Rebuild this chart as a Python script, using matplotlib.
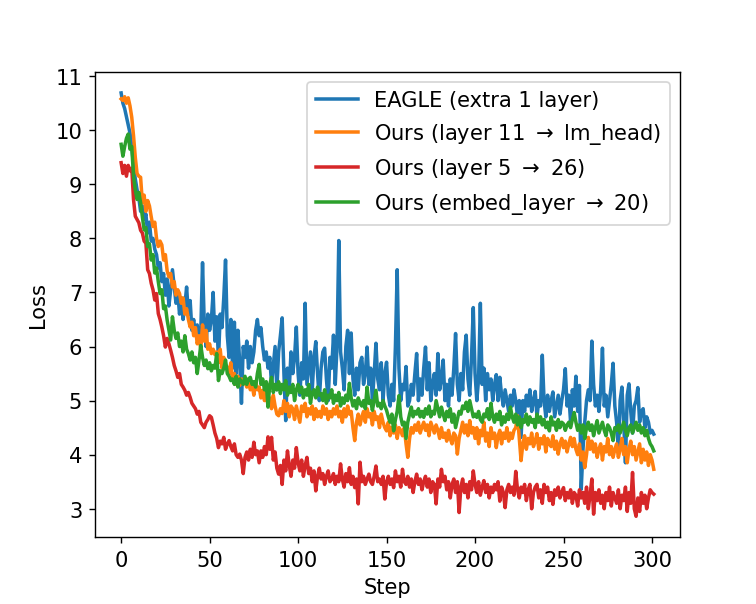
import numpy as np
import matplotlib
matplotlib.use('Agg')
import matplotlib.pyplot as plt

# loss curves, one value per training step
eagle = [
    10.69, 10.5, 10.4, 10.25, 10.1, 9.95, 9.7, 9.35, 9.1, 8.9,
    8.75, 8.5, 8.6, 8.35, 8.45, 8.1, 8.3, 7.95, 8.0, 7.8,
    7.7, 7.45, 7.55, 7.2, 7.35, 6.95, 7.25, 6.75, 7.05, 7.42,
    7.1, 6.8, 7.0, 6.6, 6.9, 6.5, 6.75, 7.1, 6.6, 6.85,
    6.3, 6.5, 6.2, 6.4, 6.1, 6.25, 7.55, 6.4, 6.0, 6.6,
    6.3, 6.5, 7.0, 6.1, 6.55, 5.75, 6.6, 6.35, 6.9, 7.6,
    6.2, 5.8, 6.5, 5.6, 6.45, 5.5, 6.3, 5.7, 4.95, 6.0,
    5.8, 6.1, 5.6, 6.0, 5.7, 5.9, 6.3, 6.5, 6.2, 6.35,
    6.0, 5.75, 5.9, 5.6, 5.8, 5.3, 5.65, 6.0, 5.2, 5.9,
    6.2, 6.53, 5.5, 4.63, 5.6, 5.2, 5.9, 5.5, 5.8, 6.36,
    5.5, 5.1, 5.7, 5.4, 6.8, 5.3, 5.6, 5.9, 5.2, 5.8,
    6.09, 5.5, 5.0, 5.6, 5.9, 5.97, 5.4, 5.0, 5.8, 5.6,
    6.21, 5.3, 6.0, 7.96, 5.9, 5.6, 5.2, 6.0, 6.3, 5.5,
    6.25, 5.4, 5.1, 5.6, 5.2, 5.7, 5.8, 5.3, 5.5, 5.99,
    5.3, 5.6, 5.0, 5.5, 6.06, 5.4, 5.2, 5.7, 5.0, 5.5,
    5.71, 5.1, 4.9, 5.3, 5.0, 6.0, 7.42, 5.6, 5.0, 5.3,
    5.2, 5.63, 4.9, 5.0, 5.3, 5.1, 5.5, 5.87, 5.0, 5.4,
    5.1, 5.6, 5.99, 5.2, 5.7, 5.0, 5.3, 5.5, 5.1, 5.87,
    5.2, 5.4, 5.75, 5.0, 5.3, 4.9, 5.4, 5.1, 5.6, 6.24,
    5.3, 5.0, 5.5, 5.2, 5.9, 6.21, 5.4, 5.1, 5.8, 6.72,
    5.5, 5.0, 5.4, 6.8, 5.3, 5.6, 5.0, 5.5, 5.2, 5.4,
    5.0, 5.3, 5.48, 5.0, 5.43, 5.1, 4.9, 5.2, 5.0, 4.8,
    5.1, 4.9, 5.2, 5.0, 4.7, 5.0, 4.32, 5.0, 4.8, 5.1,
    4.9, 5.2, 4.8, 5.0, 5.17, 4.7, 5.0, 4.9, 5.84, 5.0,
    4.7, 5.1, 4.8, 5.0, 5.16, 4.7, 4.9, 5.1, 4.75, 5.0,
    5.2, 5.59, 4.9, 5.1, 4.6, 5.2, 4.9, 5.45, 4.8, 5.28,
    3.36, 4.1, 4.6, 5.0, 5.2, 5.0, 6.1, 5.3, 4.9, 5.1,
    4.8, 5.2, 5.97, 4.9, 5.1, 4.7, 5.0, 5.3, 5.69, 4.9,
    4.6, 4.07, 5.0, 5.25, 4.6, 3.85, 5.1, 5.31, 4.8, 4.4,
    4.9, 5.0, 5.24, 4.6, 4.8, 4.85, 4.5, 4.7, 4.6, 4.4,
    4.45, 4.38,
]

ours_lm_head = [
    10.58, 10.55, 10.62, 10.5, 10.6, 10.45, 10.24, 9.9, 9.5, 9.2,
    9.15, 9.13, 8.66, 8.8, 8.5, 8.7, 8.6, 8.4, 8.22, 8.3,
    8.0, 7.85, 7.95, 7.88, 7.6, 7.7, 7.4, 7.29, 7.35, 7.1,
    7.2, 6.95, 7.05, 6.98, 6.8, 6.9, 6.6, 6.7, 6.5, 6.36,
    6.45, 6.2, 6.35, 6.05, 6.2, 5.95, 6.4, 6.1, 6.3, 5.95,
    6.05, 5.87, 5.95, 5.85, 5.9, 5.7, 5.95, 5.6, 5.8, 5.65,
    5.62, 5.5, 5.7, 5.4, 5.5, 5.3, 5.45, 5.28, 5.4, 5.35,
    5.37, 5.25, 5.4, 5.2, 5.3, 5.1, 5.35, 5.2, 5.25, 5.05,
    5.19, 5.0, 5.15, 4.9, 5.05, 4.85, 5.1, 4.9, 4.75, 4.72,
    4.85, 4.76, 5.0, 4.8, 4.95, 4.7, 4.9, 4.85, 4.65, 4.9,
    4.75, 4.6, 4.9, 4.8, 4.95, 4.7, 4.85, 4.75, 4.9, 4.65,
    4.85, 4.7, 4.8, 4.69, 4.9, 4.75, 4.85, 4.65, 4.8, 4.7,
    4.85, 4.75, 4.9, 4.7, 4.8, 4.6, 4.85, 4.7, 4.9, 4.75,
    4.8, 4.5, 4.26, 4.6, 4.75, 4.55, 4.7, 4.8, 4.6, 4.85,
    4.7, 4.76, 4.55, 4.8, 4.65, 4.7, 4.5, 4.75, 4.6, 4.5,
    4.44, 4.6, 4.35, 4.5, 4.4, 4.55, 4.3, 4.5, 4.45, 4.35,
    4.5, 4.2, 3.95, 4.3, 4.5, 4.4, 4.55, 4.45, 4.6, 4.4,
    4.51, 4.6, 4.45, 4.55, 4.35, 4.6, 4.5, 4.4, 4.55, 4.45,
    4.3, 4.5, 4.32, 4.4, 4.25, 4.45, 4.3, 4.2, 4.4, 4.35,
    4.01, 4.3, 4.45, 4.6, 4.4, 4.55, 4.35, 4.63, 4.4, 4.5,
    4.3, 4.5, 4.2, 4.45, 4.35, 4.6, 4.25, 4.4, 4.15, 4.5,
    4.3, 4.4, 4.13, 4.35, 4.45, 4.2, 4.4, 4.3, 4.5, 4.25,
    4.4, 4.3, 4.45, 4.5, 4.72, 4.3, 3.89, 4.2, 4.35, 4.1,
    4.3, 4.2, 4.4, 4.15, 4.25, 4.39, 4.1, 4.3, 4.2, 4.35,
    4.05, 4.3, 4.2, 4.15, 4.35, 4.1, 4.25, 4.01, 4.2, 4.3,
    4.13, 4.25, 4.05, 4.2, 4.32, 4.15, 4.3, 4.1, 4.0, 4.2,
    3.9, 4.05, 3.76, 4.0, 4.32, 4.1, 4.25, 4.05, 4.2, 3.95,
    4.1, 4.2, 3.9, 4.15, 4.05, 4.3, 4.0, 4.15, 3.95, 4.1,
    4.2, 3.95, 4.1, 4.3, 4.0, 4.15, 3.85, 4.1, 4.25, 4.0,
    4.15, 3.9, 4.05, 4.2, 3.85, 4.1, 3.9, 4.05, 3.8, 4.0,
    3.9, 3.73,
]

ours_layer5 = [
    9.4, 9.2, 9.35, 9.15, 9.35, 9.25, 9.3, 8.72, 8.41, 8.35,
    8.29, 8.15, 8.1, 7.95, 7.91, 7.42, 7.35, 7.17, 7.05, 6.86,
    6.98, 6.61, 6.5, 6.36, 6.2, 5.99, 6.15, 6.05, 5.93, 5.8,
    5.65, 5.55, 5.43, 5.5, 5.3, 5.25, 5.19, 5.1, 5.15, 5.06,
    4.95, 4.9, 4.85, 4.75, 4.8, 4.6, 4.55, 4.5, 4.6, 4.65,
    4.72, 4.69, 4.55, 4.4, 4.3, 4.13, 4.25, 4.2, 4.32, 4.1,
    4.2, 4.26, 4.15, 4.07, 4.2, 4.0, 3.95, 4.01, 3.9, 3.65,
    3.95, 4.05, 3.9, 4.1, 3.95, 4.23, 4.0, 4.07, 3.85, 4.07,
    3.95, 4.15, 4.0, 4.33, 4.1, 4.32, 3.9, 4.05, 3.75, 3.64,
    3.8, 3.45, 3.9, 3.7, 4.07, 3.8, 3.6, 3.9, 3.75, 4.13,
    3.85, 3.7, 3.9, 3.6, 3.8, 3.95, 3.65, 3.75, 3.5, 3.7,
    3.33, 3.6, 3.75, 3.55, 3.65, 3.45, 3.6, 3.7, 3.5, 3.55,
    3.65, 3.45, 3.6, 3.5, 3.83, 3.55, 3.4, 3.65, 3.5, 3.76,
    3.45, 3.6, 3.39, 3.55, 3.09, 3.86, 3.5, 3.6, 3.45, 3.55,
    3.64, 3.5, 3.45, 3.6, 3.79, 3.5, 3.55, 3.45, 3.6, 3.18,
    3.5, 3.6, 3.45, 3.55, 3.39, 3.7, 3.5, 3.6, 3.4, 3.73,
    3.5, 3.45, 3.6, 3.4, 3.55, 3.3, 3.5, 3.64, 3.45, 3.55,
    3.35, 3.5, 3.6, 3.4, 3.55, 3.3, 3.5, 3.45, 3.09, 3.55,
    3.4, 3.73, 3.5, 3.6, 3.35, 3.5, 3.2, 3.45, 3.55, 3.3,
    3.5, 2.93, 3.4, 3.55, 3.3, 3.45, 3.2, 3.5, 3.35, 3.7,
    3.45, 3.3, 3.5, 3.25, 3.4, 3.52, 3.3, 3.45, 3.2, 3.4,
    3.3, 3.45, 3.35, 3.5, 3.14, 3.4, 3.3, 3.02, 3.35, 3.45,
    3.3, 3.4, 3.25, 3.69, 3.35, 3.2, 3.4, 3.3, 3.45, 3.15,
    3.35, 3.45, 3.0, 3.3, 3.4, 3.45, 3.2, 3.35, 3.1, 3.45,
    3.3, 3.4, 3.15, 3.3, 3.08, 3.35, 3.25, 3.4, 3.2, 3.3,
    3.39, 3.15, 3.3, 3.2, 3.35, 3.1, 3.3, 3.25, 3.05, 3.35,
    3.2, 3.3, 3.1, 3.4, 3.0, 3.25, 3.55, 2.9, 3.3, 3.15,
    3.35, 3.1, 3.25, 3.0, 3.3, 3.15, 3.4, 3.05, 3.3, 3.2,
    3.1, 3.35, 3.0, 3.25, 3.15, 3.4, 2.95, 3.3, 3.1, 3.67,
    3.0, 2.86, 3.2, 2.95, 3.3, 3.1, 3.25, 3.0, 3.2, 3.35,
    3.3, 3.27,
]

ours_embed = [
    9.74, 9.52, 9.7, 9.85, 9.93, 9.65, 9.7, 9.15, 8.9, 8.72,
    8.85, 8.66, 8.4, 8.16, 8.2, 7.85, 7.9, 7.6, 7.7, 7.36,
    7.45, 7.2, 6.98, 7.05, 6.7, 6.75, 6.49, 6.3, 6.12, 6.55,
    6.3, 6.15, 6.25, 6.0, 6.1, 5.9, 6.2, 5.95, 5.87, 5.75,
    5.9, 5.7, 5.8, 5.5, 5.75, 6.02, 5.8, 5.65, 5.75, 5.59,
    5.7, 5.55, 5.65, 5.6, 5.87, 5.37, 5.55, 5.5, 5.6, 5.75,
    5.5, 5.45, 5.37, 5.4, 5.3, 5.45, 5.25, 5.4, 5.35, 5.3,
    5.45, 5.3, 5.4, 5.43, 5.3, 5.35, 5.25, 5.5, 5.67, 5.3,
    5.4, 5.2, 5.35, 4.88, 5.3, 5.43, 5.15, 5.3, 5.2, 5.35,
    5.13, 5.3, 5.2, 5.37, 5.1, 5.25, 5.15, 5.3, 5.0, 5.2,
    5.3, 5.15, 5.25, 5.05, 5.2, 5.1, 5.3, 4.95, 5.15, 5.2,
    5.05, 5.25, 5.1, 5.13, 5.0, 5.2, 4.95, 5.1, 5.05, 5.2,
    4.95, 5.1, 5.0, 5.15, 4.9, 5.05, 4.95, 5.1, 5.0, 5.32,
    5.05, 4.9, 5.0, 4.85, 5.05, 4.95, 4.9, 5.0, 4.85, 5.25,
    4.95, 5.0, 4.82, 5.0, 5.19, 4.9, 4.95, 4.85, 5.0, 4.9,
    4.82, 4.7, 4.6, 4.75, 4.44, 4.65, 4.8, 5.09, 4.7, 4.55,
    4.6, 4.3, 4.6, 4.75, 4.88, 4.7, 4.8, 4.75, 4.85, 4.7,
    4.8, 4.69, 4.85, 4.75, 4.9, 4.7, 4.8, 4.75, 5.0, 4.85,
    4.7, 4.88, 4.75, 4.63, 4.8, 4.7, 4.85, 4.6, 4.75, 4.5,
    4.65, 4.8, 4.75, 4.9, 4.85, 4.97, 4.8, 5.0, 4.85, 4.7,
    4.75, 4.69, 4.8, 4.65, 4.6, 4.75, 4.7, 4.85, 4.65, 4.95,
    4.7, 4.6, 4.75, 4.65, 4.8, 4.55, 4.7, 4.6, 4.75, 4.65,
    4.88, 4.7, 4.6, 4.75, 4.55, 4.7, 4.5, 4.65, 4.6, 4.75,
    4.55, 4.7, 4.6, 4.65, 4.5, 4.75, 4.6, 4.7, 4.55, 4.65,
    4.5, 4.6, 4.44, 4.7, 4.55, 4.6, 4.45, 4.65, 4.5, 4.6,
    4.57, 4.45, 4.55, 4.6, 4.5, 4.65, 4.78, 4.6, 4.45, 4.55,
    4.4, 4.55, 4.3, 4.5, 4.6, 4.45, 4.55, 4.35, 4.5, 4.63,
    4.4, 4.5, 4.6, 4.45, 4.35, 4.55, 4.5, 4.4, 4.26, 4.5,
    4.45, 4.55, 4.4, 4.5, 4.6, 4.45, 4.35, 4.5, 4.55, 4.4,
    4.5, 4.6, 4.45, 4.55, 4.4, 4.5, 4.35, 4.45, 4.3, 4.2,
    4.15, 4.07,
]

labels = [
    'EAGLE (extra 1 layer)',
    'Ours (layer 11 $\\rightarrow$ lm_head)',
    'Ours (layer 5 $\\rightarrow$ 26)',
    'Ours (embed_layer $\\rightarrow$ 20)',
]
colors = ['tab:blue', 'tab:orange', 'tab:red', 'tab:green']

steps = np.arange(len(eagle))

plt.rcParams['font.size'] = 12

fig, ax = plt.subplots(figsize=(6, 4.8), dpi=126)
for series, lab, col in zip([eagle, ours_lm_head, ours_layer5, ours_embed], labels, colors):
    ax.plot(steps, series, color=col, label=lab, linewidth=2)

ax.set_xlabel('Step')
ax.set_ylabel('Loss')
ax.legend()

fig.savefig('out.png', dpi=126)
